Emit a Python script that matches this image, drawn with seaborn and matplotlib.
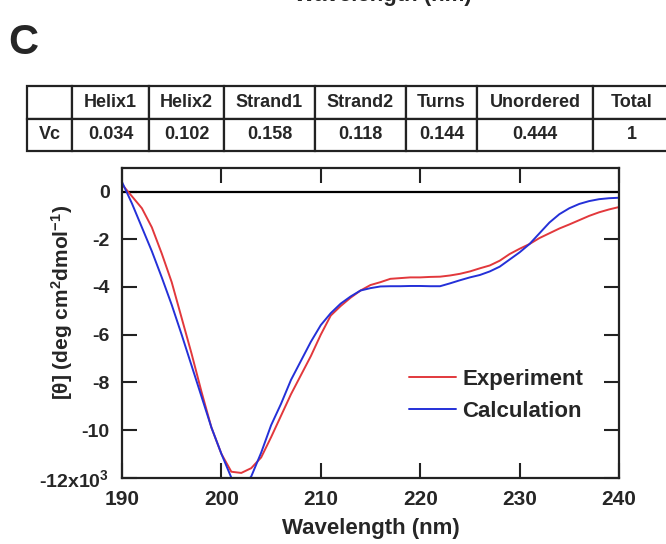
import numpy as np
import pandas as pd
import seaborn as sns
import matplotlib.pyplot as plt

# CD spectrum data (values in units of 10^3 deg cm2 dmol-1)
wavelength = list(range(190, 241))
experiment = [0.3, -0.2, -0.7, -1.5, -2.6, -3.8, -5.3, -6.8, -8.4, -9.9,
              -11.0, -11.75, -11.8, -11.6, -11.15, -10.3, -9.4, -8.5, -7.7, -6.9,
              -6.0, -5.2, -4.8, -4.45, -4.15, -3.92, -3.8, -3.66, -3.63, -3.6,
              -3.6, -3.58, -3.57, -3.52, -3.45, -3.35, -3.22, -3.1, -2.9, -2.62,
              -2.4, -2.2, -1.95, -1.75, -1.55, -1.38, -1.2, -1.02, -0.87, -0.75,
              -0.65]
calculation = [0.4, -0.5, -1.5, -2.5, -3.6, -4.75, -6.0, -7.3, -8.6, -9.9,
               -11.0, -12.0, -12.4, -11.95, -10.95, -9.8, -8.9, -7.9, -7.1, -6.3,
               -5.6, -5.1, -4.7, -4.4, -4.15, -4.05, -3.98, -3.97, -3.97, -3.96,
               -3.96, -3.97, -3.97, -3.85, -3.72, -3.6, -3.5, -3.35, -3.15, -2.85,
               -2.55, -2.2, -1.75, -1.3, -0.95, -0.7, -0.52, -0.4, -0.32, -0.28,
               -0.26]

# secondary structure table
table_cols = ["", "Helix1", "Helix2", "Strand1", "Strand2", "Turns", "Unordered", "Total"]
table_row = ["Vc", "0.034", "0.102", "0.158", "0.118", "0.144", "0.444", "1"]

xticks = [190, 200, 210, 220, 230, 240]
yticks = [0, -2, -4, -6, -8, -10, -12]
ytick_labels = ["0", "-2", "-4", "-6", "-8", "-10", r"-12x10$^{3}$"]

sns.set_theme(style="ticks")
plt.rcParams['font.family'] = ['Liberation Sans', 'DejaVu Sans']
plt.rcParams['font.weight'] = 'bold'
plt.rcParams['mathtext.fontset'] = 'custom'
plt.rcParams['mathtext.rm'] = 'Liberation Sans:bold'
plt.rcParams['mathtext.it'] = 'Liberation Sans:bold'
plt.rcParams['mathtext.bf'] = 'Liberation Sans:bold'

W, H = 666, 544
fig = plt.figure(figsize=(W / 100, H / 100), dpi=100)

# main axes, placed in pixel coords
left, right, top, bottom = 122, 619, 167.7, 477.7
ax = fig.add_axes([left / W, 1 - bottom / H, (right - left) / W, (bottom - top) / H])

df = pd.DataFrame({'wavelength': wavelength * 2,
                   'theta': experiment + calculation,
                   'series': ['Experiment'] * len(wavelength) + ['Calculation'] * len(wavelength)})
sns.lineplot(data=df, x='wavelength', y='theta', hue='series',
             palette={'Experiment': '#e2383c', 'Calculation': '#2430d8'},
             linewidth=1.4, ax=ax)

ax.axhline(0, color='black', linewidth=1.6, zorder=1)
ax.set_xlim(190, 240)
ax.set_ylim(-12, 1.0)
ax.set_xticks(xticks)
ax.set_yticks(yticks)
ax.set_yticklabels(ytick_labels)
ax.tick_params(axis='both', direction='in', length=11, width=1.5, color='#222222',
               top=True, right=True)
ax.tick_params(axis='x', labelsize=15, pad=9)
ax.tick_params(axis='y', labelsize=14, pad=9)
for sp in ax.spines.values():
    sp.set_linewidth(1.6)
    sp.set_color('#222222')
ax.set_xlabel('Wavelength (nm)', fontsize=16, fontweight='bold', labelpad=6)
ax.set_ylabel('')
fig.text(62 / W, 1 - 302 / H, r"[θ] (deg cm$^{2}$dmol$^{-1}$)", rotation=90,
         ha='center', va='center', fontsize=15, fontweight='bold')

ax.legend(loc='upper left', bbox_to_anchor=(409 / W, 1 - 369 / H),
          bbox_transform=fig.transFigure, frameon=False, fontsize=16,
          handlelength=2.1, handletextpad=0.3, labelspacing=0.5,
          borderpad=0, borderaxespad=0)

# panel letter
fig.text(23 / W, 1 - 43 / H, 'C', fontsize=30, fontweight='bold', ha='center', va='center')
# clipped x-label of the panel above (only its lowest part shows)
fig.text(472 / W, 1 - 1 / H, 'Wavelength (nm)', fontsize=16, fontweight='bold',
         ha='right', va='baseline')

# table
edges = [27, 72, 149, 224, 315, 406, 477, 593, 671]
tax = fig.add_axes([edges[0] / W, 1 - 151 / H, (edges[-1] - edges[0]) / W, (151 - 86) / H])
tax.axis('off')
widths = np.diff(edges) / (edges[-1] - edges[0])
tbl = tax.table(cellText=[table_cols, table_row], colWidths=list(widths),
                cellLoc='center', bbox=[0, 0, 1, 1])
tbl.auto_set_font_size(False)
for (r, c), cell in tbl.get_celld().items():
    cell.set_linewidth(1.6)
    cell.set_edgecolor('#222222')
    cell.get_text().set_fontsize(13)
    cell.get_text().set_fontweight('bold')

fig.savefig('out.png', dpi=100)
